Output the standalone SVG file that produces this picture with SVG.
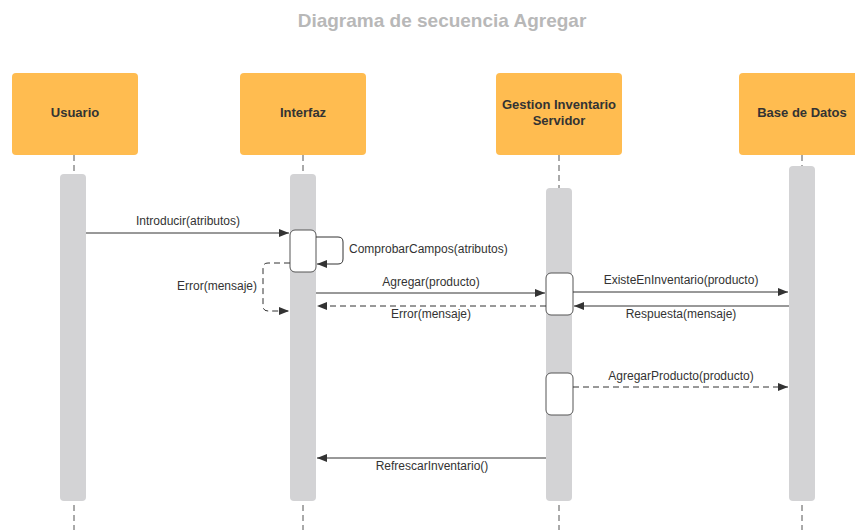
<svg xmlns="http://www.w3.org/2000/svg" width="855" height="530" viewBox="0 0 855 530">
  <defs>
    <marker id="arr" viewBox="0 0 10 8" refX="10" refY="4" markerWidth="10" markerHeight="8" markerUnits="userSpaceOnUse" orient="auto">
      <path d="M0,0 L10,4 L0,8 Z" fill="#333"/>
    </marker>
    <style>
      .title { font-family: "Liberation Sans", Arial, sans-serif; font-size: 19px; font-weight: bold; fill: #b8b8b8; }
      .head { fill: #ffbc50; }
      .htxt { font-family: "Liberation Sans", Arial, sans-serif; font-size: 13px; font-weight: bold; fill: #333; }
      .life { stroke: #555; stroke-width: 1; stroke-dasharray: 6 4; fill: none; }
      .bar { fill: #d3d3d5; }
      .act { fill: #fff; stroke: #555; stroke-width: 1; }
      .msg { stroke: #333; stroke-width: 1; fill: none; marker-end: url(#arr); }
      .dash { stroke-dasharray: 6 4; }
      .lbl { font-family: "Liberation Sans", Arial, sans-serif; font-size: 12px; fill: #333; }
    </style>
  </defs>
  <rect width="855" height="530" fill="#fff"/>
  <text class="title" x="442" y="27" text-anchor="middle">Diagrama de secuencia Agregar</text>

  <g id="usuario">
    <rect class="head" x="12" y="73" width="126" height="82" rx="4"/>
    <text class="htxt" x="75" y="117" text-anchor="middle">Usuario</text>
    <line class="life" x1="74" y1="155" x2="74" y2="174"/>
    <rect class="bar" x="60" y="174" width="26" height="327" rx="4"/>
    <line class="life" x1="74" y1="505" x2="74" y2="530"/>
  </g>

  <g id="interfaz">
    <rect class="head" x="240" y="73" width="126" height="82" rx="4"/>
    <text class="htxt" x="303" y="117" text-anchor="middle">Interfaz</text>
    <line class="life" x1="303" y1="155" x2="303" y2="174"/>
    <rect class="bar" x="290" y="174" width="26" height="327" rx="4"/>
    <line class="life" x1="303" y1="505" x2="303" y2="530"/>
    <rect class="act" x="290" y="230" width="26" height="42" rx="5"/>
  </g>

  <g id="gestion">
    <rect class="head" x="496" y="73" width="126" height="82" rx="4"/>
    <text class="htxt" x="559" y="109" text-anchor="middle">Gestion Inventario</text>
    <text class="htxt" x="559" y="125" text-anchor="middle">Servidor</text>
    <line class="life" x1="559" y1="155" x2="559" y2="188"/>
    <rect class="bar" x="546" y="188" width="26" height="313" rx="4"/>
    <line class="life" x1="559" y1="505" x2="559" y2="530"/>
    <rect class="act" x="546" y="273" width="27" height="42" rx="5"/>
    <rect class="act" x="546" y="373" width="27" height="42" rx="5"/>
  </g>

  <g id="basedatos">
    <rect class="head" x="739" y="73" width="126" height="82" rx="4"/>
    <text class="htxt" x="802" y="117" text-anchor="middle">Base de Datos</text>
    <line class="life" x1="802" y1="155" x2="802" y2="166"/>
    <rect class="bar" x="789" y="166" width="26" height="335" rx="4"/>
    <line class="life" x1="802" y1="505" x2="802" y2="530"/>
  </g>

  <g id="connectors">
    <line class="msg" x1="86" y1="233" x2="289" y2="233"/>
    <text class="lbl" x="188" y="225" text-anchor="middle">Introducir(atributos)</text>

    <path class="msg" d="M316,237 H338 Q343,237 343,242 V259 Q343,264 338,264 H317"/>
    <text class="lbl" x="349" y="253">ComprobarCampos(atributos)</text>

    <path class="msg dash" d="M290,263 H268 Q263,263 263,268 V306 Q263,311 268,311 H289"/>
    <text class="lbl" x="257" y="290" text-anchor="end">Error(mensaje)</text>

    <line class="msg" x1="316" y1="293" x2="545" y2="293"/>
    <text class="lbl" x="431" y="286" text-anchor="middle">Agregar(producto)</text>

    <line class="msg dash" x1="546" y1="306" x2="317" y2="306"/>
    <text class="lbl" x="431" y="318" text-anchor="middle">Error(mensaje)</text>

    <line class="msg" x1="573" y1="292" x2="788" y2="292"/>
    <text class="lbl" x="681" y="284" text-anchor="middle">ExisteEnInventario(producto)</text>

    <line class="msg" x1="789" y1="306" x2="574" y2="306"/>
    <text class="lbl" x="681" y="318" text-anchor="middle">Respuesta(mensaje)</text>

    <line class="msg dash" x1="573" y1="387" x2="788" y2="387"/>
    <text class="lbl" x="681" y="380" text-anchor="middle">AgregarProducto(producto)</text>

    <line class="msg" x1="546" y1="458" x2="317" y2="458"/>
    <text class="lbl" x="432" y="470" text-anchor="middle">RefrescarInventario()</text>
  </g>
</svg>
